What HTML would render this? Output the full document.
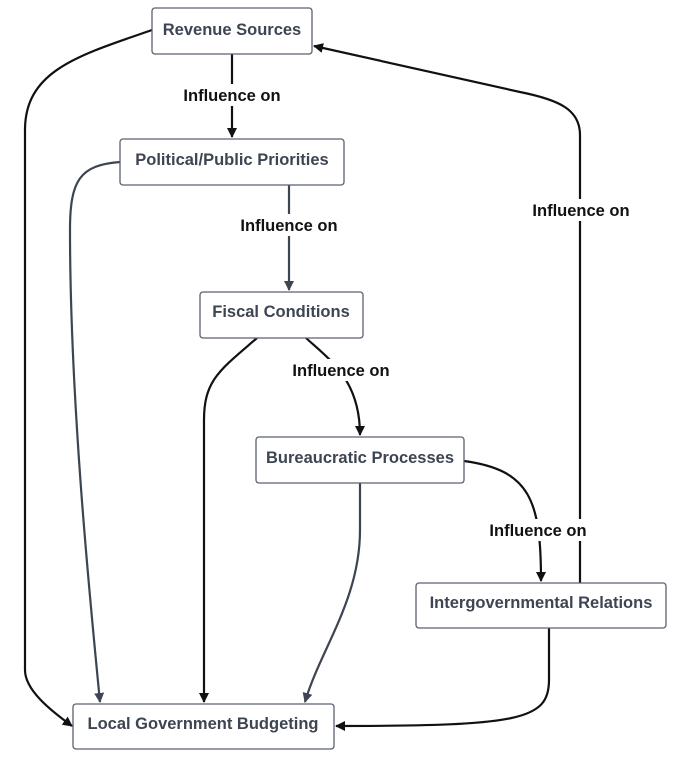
<!DOCTYPE html>
<html><head><meta charset="utf-8"><style>
body{margin:0;background:#fff;width:673px;height:754px;overflow:hidden}
</style></head><body>
<svg width="673" height="754" viewBox="0 0 673 754" xmlns="http://www.w3.org/2000/svg" font-family="Liberation Sans, sans-serif" font-weight="bold">
<defs>
<marker id="a" markerWidth="10" markerHeight="10" refX="9" refY="5" orient="auto" markerUnits="userSpaceOnUse"><path d="M0,0 L10,5 L0,10 z" fill="#111"/></marker>
<marker id="b" markerWidth="10" markerHeight="10" refX="9" refY="5" orient="auto" markerUnits="userSpaceOnUse"><path d="M0,0 L10,5 L0,10 z" fill="#3d4552"/></marker>
</defs>
<g fill="none" stroke-width="2.2">
<path d="M232,54 L232,137" stroke="#111" marker-end="url(#a)"/>
<path d="M289,185 L289,290" stroke="#3d4552" marker-end="url(#b)"/>
<path d="M306,338 C330,360 360,380 360,435" stroke="#111" marker-end="url(#a)"/>
<path d="M464,461 C530,470 541,500 541,581" stroke="#111" marker-end="url(#a)"/>
<path d="M580,583 L580,135 C580,110 560,100 520,92 L314,46" stroke="#111" marker-end="url(#a)"/>
<path d="M152,30 C80,55 25,70 25,130 L25,670 C25,690 50,710 72,726" stroke="#111" marker-end="url(#a)"/>
<path d="M120,162 C80,165 70,180 70,230 C70,400 90,600 100,702" stroke="#3d4552" marker-end="url(#b)"/>
<path d="M257,338 C220,370 204,380 204,420 L204,702" stroke="#111" marker-end="url(#a)"/>
<path d="M360,483 L360,530 C360,600 320,650 305,702" stroke="#3d4552" marker-end="url(#b)"/>
<path d="M549,628 L549,680 C549,720 520,726 336,726" stroke="#111" marker-end="url(#a)"/>
</g>
<g fill="#fff" stroke="#5a6270" stroke-width="1.3">
<rect x="152" y="8" width="160" height="46" rx="3"/>
<rect x="120" y="139" width="224" height="46" rx="3"/>
<rect x="200" y="292" width="163" height="46" rx="3"/>
<rect x="256" y="437" width="208" height="46" rx="3"/>
<rect x="416" y="583" width="250" height="45" rx="3"/>
<rect x="73" y="704" width="261" height="45" rx="3"/>
</g>
<g fill="#3d4552" font-size="16.5" text-anchor="middle">
<text x="232" y="35">Revenue Sources</text>
<text x="232" y="165">Political/Public Priorities</text>
<text x="281" y="317">Fiscal Conditions</text>
<text x="360" y="463">Bureaucratic Processes</text>
<text x="541" y="608">Intergovernmental Relations</text>
<text x="203" y="729">Local Government Budgeting</text>
</g>
<g font-size="16.5" text-anchor="middle">
<g fill="#fff"><rect x="180" y="84" width="104" height="22"/><rect x="237" y="214" width="104" height="22"/><rect x="289" y="359" width="104" height="22"/><rect x="486" y="519" width="104" height="22"/><rect x="529" y="199" width="104" height="22"/></g>
<g fill="#111">
<text x="232" y="101">Influence on</text>
<text x="289" y="231">Influence on</text>
<text x="341" y="376">Influence on</text>
<text x="538" y="536">Influence on</text>
<text x="581" y="216">Influence on</text>
</g></g>
</svg>
</body></html>
